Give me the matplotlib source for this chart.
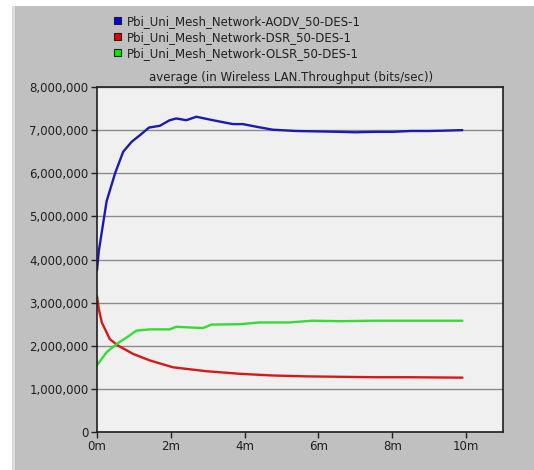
import matplotlib
matplotlib.use('Agg')
import matplotlib.pyplot as plt
from matplotlib.patches import Rectangle, Patch
from matplotlib.ticker import FuncFormatter

plt.rcParams['font.family'] = ['DejaVu Sans']

# simulation time (minutes) and average WLAN throughput (Mbit/s)
aodv_t = [0, 0.05, 0.26, 0.49, 0.71, 0.94, 1.16, 1.41, 1.7, 1.97, 2.15, 2.42, 2.69,
          3.14, 3.68, 3.95, 4.31, 4.76, 5.39, 6.0, 6.57, 7.0, 7.5, 8.0, 8.5, 9.0, 9.5, 9.9]
aodv_v = [3.75, 4.2, 5.35, 6.0, 6.5, 6.73, 6.88, 7.06, 7.1, 7.23, 7.27, 7.23, 7.31,
          7.23, 7.14, 7.14, 7.08, 7.01, 6.98, 6.97, 6.96, 6.95, 6.96, 6.96, 6.98, 6.98, 6.99, 7.0]

dsr_t = [0, 0.05, 0.13, 0.35, 0.58, 0.98, 1.43, 2.06, 2.96, 3.86, 4.77, 5.67, 6.57, 7.5, 8.5, 9.9]
dsr_v = [3.15, 2.85, 2.54, 2.15, 2.0, 1.81, 1.66, 1.5, 1.41, 1.35, 1.31, 1.29, 1.28, 1.27, 1.27, 1.26]

olsr_t = [0, 0.26, 0.53, 0.8, 1.07, 1.43, 1.97, 2.15, 2.87, 3.1, 3.87, 4.4, 5.2, 5.84, 6.57, 7.5, 8.5, 9.9]
olsr_v = [1.55, 1.85, 2.04, 2.19, 2.35, 2.38, 2.38, 2.44, 2.41, 2.49, 2.5, 2.54, 2.54, 2.58, 2.57, 2.58, 2.58, 2.58]

labels = ['Pbi_Uni_Mesh_Network-AODV_50-DES-1',
          'Pbi_Uni_Mesh_Network-DSR_50-DES-1',
          'Pbi_Uni_Mesh_Network-OLSR_50-DES-1']
line_colors = ['#1a1ab4', '#d81818', '#33dd33']
key_colors = ['#0000ee', '#ee0000', '#00ee00']

x_ticks = [0, 2, 4, 6, 8, 10]
y_ticks = [0, 1, 2, 3, 4, 5, 6, 7, 8]

W, H = 534, 470
fig = plt.figure(figsize=(W / 100, H / 100), dpi=100, facecolor='white')

# grey panel behind everything, leaving the thin light strip at left and top
fig.patches.append(Rectangle((12 / W, 0), 1, (H - 6) / H, transform=fig.transFigure,
                             facecolor='#c0c0c0', edgecolor='none', zorder=-10))
fig.patches.append(Rectangle((12 / W, 0), 3 / W, (H - 6) / H, transform=fig.transFigure,
                             facecolor='#dcdcdc', edgecolor='none', zorder=-9))

ax = fig.add_axes([97 / W, 38 / H, 406 / W, 345 / H])
ax.set_facecolor('#f0f0f0')

series = [(aodv_t, aodv_v), (dsr_t, dsr_v), (olsr_t, olsr_v)]
for (t, v), c in zip(series, line_colors):
    ax.plot(t, [x * 1e6 for x in v], color=c, lw=1.7, solid_capstyle='round')

ax.set_xlim(0, 11)
ax.set_ylim(0, 8e6)
ax.set_xticks(x_ticks)
ax.set_xticklabels([f'{m}m' for m in x_ticks])
ax.set_yticks([y * 1e6 for y in y_ticks])
ax.yaxis.set_major_formatter(FuncFormatter(lambda val, pos: f'{int(val):,}'))
ax.grid(axis='y', color='#8c8c8c', lw=1.0)
ax.set_axisbelow(True)
for s in ax.spines.values():
    s.set_color('#202020')
    s.set_linewidth(1.2)
ax.tick_params(direction='out', length=4, width=1, colors='#202020',
               labelsize=8.5, labelcolor='#202020', pad=2)

fig.text(291 / W, 1 - 77 / H, 'average (in Wireless LAN.Throughput (bits/sec))',
         ha='center', va='center', fontsize=8.5, color='#202020')

handles = [Patch(facecolor=c, edgecolor='#202020', lw=0.8) for c in key_colors]
fig.legend(handles, labels, loc='upper left', bbox_to_anchor=(108 / W, 1 - 9 / H),
           frameon=False, fontsize=8.5, handlelength=0.6, handleheight=0.6,
           handletextpad=0.5, labelspacing=0.25, borderpad=0, labelcolor='#202020')

fig.savefig('out.png', dpi=100, facecolor=fig.get_facecolor())
